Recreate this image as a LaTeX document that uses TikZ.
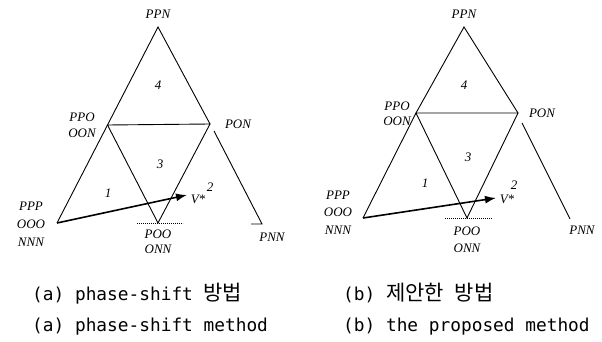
\documentclass[tikz,border=0pt]{standalone}
\usepackage{fontspec}
\setmainfont{Liberation Serif}
\newfontfamily\capmono{DejaVu Sans Mono}
\newfontfamily\capkr{Noto Sans CJK KR}
\newcommand\krtxt[1]{{\capkr\fontsize{21}{22}\selectfont #1}}
\usetikzlibrary{arrows.meta}
\begin{document}
\begin{tikzpicture}[x=1pt,y=-1pt,
  edge/.style={line width=0.9pt},
  vec/.style={line width=1.6pt,-{Latex[length=11pt,width=8pt]}},
  lbl/.style={font=\fontsize{13}{14}\selectfont\itshape, inner sep=0pt},
  tickline/.style={line width=0.8pt, dash pattern=on 1.2pt off 0.8pt},
  captext/.style={font=\fontsize{17.8}{20}\selectfont\capmono, inner sep=0pt, anchor=base west}]
\useasboundingbox (0,0) rectangle (602,342);

% ---------- left diagram ----------
\coordinate (A1) at (158,27);
\coordinate (B1) at (57,223);
\coordinate (L1) at (107.5,125);
\coordinate (R1) at (210,124);
\coordinate (R1b) at (214,131);
\coordinate (C1) at (262,224);
\coordinate (T1) at (251,224);
\coordinate (M1) at (158,223);
\coordinate (D1a) at (137,223);
\coordinate (D1b) at (183,223);
\coordinate (V1) at (187,195);
\draw[edge] (B1) -- (L1) -- (A1) -- (R1);
\draw[edge] (R1b) -- (C1) -- (T1);
\draw[edge] (L1) -- (R1) -- (M1) -- cycle;
\draw[tickline] (D1a) -- (D1b);
\draw[vec] (B1) -- (V1);

\node[lbl] (ppn1) at (158,14) {PPN};
\node[lbl] (ppo1) at (82,117) {PPO};
\node[lbl] (oon1) at (82,133) {OON};
\node[lbl] (pon1) at (238,124) {PON};
\node[lbl] (ppp1) at (31,206) {PPP};
\node[lbl] (ooo1) at (31,224) {OOO};
\node[lbl] (nnn1) at (31,242) {NNN};
\node[lbl] (poo1) at (158,234) {POO};
\node[lbl] (onn1) at (158,249) {ONN};
\node[lbl] (pnn1) at (272,237) {PNN};
\node[lbl] (n4a) at (158,85) {4};
\node[lbl] (n3a) at (160,164) {3};
\node[lbl] (n1a) at (108,193) {1};
\node[lbl] (n2a) at (210,187) {2};
\node[lbl] (vs1) at (198,199) {V*};

% ---------- right diagram ----------
\coordinate (A2) at (464,27);
\coordinate (B2) at (363,218);
\coordinate (L2) at (416,113);
\coordinate (R2) at (518,113);
\coordinate (R2b) at (522,123);
\coordinate (C2) at (570,219);
\coordinate (M2) at (467,218);
\coordinate (D2a) at (445,218);
\coordinate (D2b) at (492,218);
\coordinate (V2) at (496,198);
\draw[edge] (B2) -- (L2) -- (A2) -- (R2);
\draw[edge] (R2b) -- (C2);
\draw[edge] (L2) -- (R2) -- (M2) -- cycle;
\draw[tickline] (D2a) -- (D2b);
\draw[vec] (B2) -- (V2);

\node[lbl] (ppn2) at (464,14) {PPN};
\node[lbl] (ppo2) at (397,106) {PPO};
\node[lbl] (oon2) at (397,121) {OON};
\node[lbl] (pon2) at (542,113) {PON};
\node[lbl] (ppp2) at (338,195) {PPP};
\node[lbl] (ooo2) at (338,212) {OOO};
\node[lbl] (nnn2) at (338,230) {NNN};
\node[lbl] (poo2) at (467,231) {POO};
\node[lbl] (onn2) at (467,248) {ONN};
\node[lbl] (pnn2) at (582,230) {PNN};
\node[lbl] (n4b) at (464,85) {4};
\node[lbl] (n3b) at (468,157) {3};
\node[lbl] (n1b) at (425,183) {1};
\node[lbl] (n2b) at (514,185) {2};
\node[lbl] (vs2) at (507,199) {V*};

% ---------- captions ----------
\node[captext] (ca1) at (32,300) {(a) phase-shift \krtxt{방법}};
\node[captext] (cb1) at (343,300) {(b) \krtxt{제안한} \krtxt{방법}};
\node[captext] (ca2) at (32,331) {(a) phase-shift method};
\node[captext] (cb2) at (343,331) {(b) the proposed method};
\end{tikzpicture}
\end{document}
